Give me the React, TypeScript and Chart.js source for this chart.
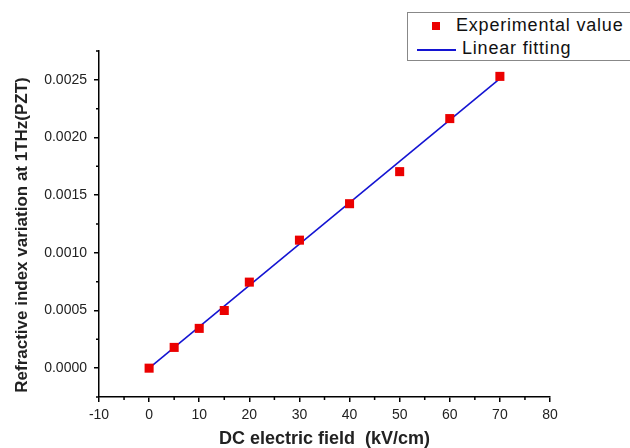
import React, { useEffect, useRef } from "react";
import { Chart, registerables } from "chart.js";

Chart.register(...registerables);

const fieldValues = [0, 5, 10, 15, 20, 30, 40, 50, 60, 70];
const indexVariation = [0.0, 0.00018, 0.000345, 0.0005, 0.000746, 0.00111, 0.001426, 0.001704, 0.002164, 0.00253];
const fitX = [0, 70];
const fitY = [0.0, 0.00251];
const xTicks = [-10, 0, 10, 20, 30, 40, 50, 60, 70, 80];
const xMinorTicks = [-5, 5, 15, 25, 35, 45, 55, 65, 75];
const yTicks = [0, 0.0005, 0.001, 0.0015, 0.002, 0.0025];
const yMinorTicks = [-0.00025, 0.00025, 0.00075, 0.00125, 0.00175, 0.00225, 0.00275];
const yTitle = "Refractive index variation at 1THz(PZT)";
const xTitle = "DC electric field  (kV/cm)";

const decorPlugin = {
  id: "decor",
  afterDraw(chart: any) {
    const ctx = chart.ctx;
    const xs = chart.scales.x;
    const ys = chart.scales.y;
    const area = chart.chartArea;
    ctx.save();
    ctx.strokeStyle = "#000";
    ctx.lineWidth = 1.5;
    ctx.beginPath();
    xMinorTicks.forEach((v) => {
      const px = xs.getPixelForValue(v);
      ctx.moveTo(px, area.bottom);
      ctx.lineTo(px, area.bottom + 3);
    });
    yMinorTicks.forEach((v) => {
      const py = ys.getPixelForValue(v);
      ctx.moveTo(area.left, py);
      ctx.lineTo(area.left - 3, py);
    });
    ctx.stroke();
    // y axis title
    ctx.translate(22, 235);
    ctx.rotate(-Math.PI / 2);
    ctx.fillStyle = "#222";
    ctx.font = "bold 17px 'Liberation Sans', Arial, sans-serif";
    ctx.textAlign = "center";
    ctx.textBaseline = "middle";
    ctx.fillText(yTitle, 0, 0);
    ctx.restore();
  },
};

export default function App() {
  const canvasRef = useRef<HTMLCanvasElement | null>(null);

  useEffect(() => {
    document.body.style.margin = "0";
    const canvas = canvasRef.current;
    if (!canvas) return;
    const chart = new Chart(canvas, {
      type: "scatter",
      data: {
        datasets: [
          {
            label: "Linear fitting",
            data: fitX.map((x, i) => ({ x, y: fitY[i] })),
            showLine: true,
            borderColor: "rgb(20,20,210)",
            borderWidth: 1.6,
            pointRadius: 0,
            order: 2,
          },
          {
            label: "Experimental value",
            data: fieldValues.map((x, i) => ({ x, y: indexVariation[i] })),
            pointStyle: "rect",
            pointRadius: 6.4,
            backgroundColor: "rgb(235,0,0)",
            borderColor: "rgb(235,0,0)",
            borderWidth: 0,
            showLine: false,
            order: 1,
          },
        ],
      },
      options: {
        animation: false,
        responsive: false,
        layout: { padding: { left: 0, right: 80, top: 51, bottom: 0 } },
        plugins: { legend: { display: false }, tooltip: { enabled: false } },
        scales: {
          x: {
            type: "linear",
            min: -10,
            max: 80,
            afterFit: (s: any) => {
              s.height = 51;
            },
            afterBuildTicks: (s: any) => {
              s.ticks = xTicks.map((v) => ({ value: v }));
            },
            grid: { display: true, drawOnChartArea: false, drawTicks: true, tickLength: 5, color: "#000", lineWidth: 1.5 },
            border: { display: true, color: "#000", width: 1.5 },
            ticks: {
              color: "#222",
              padding: 5,
              font: { family: "Liberation Sans, Arial", size: 14 },
              callback: (v: any) => String(v),
            },
            title: {
              display: true,
              text: xTitle,
              color: "#222",
              font: { family: "Liberation Sans, Arial", size: 18, weight: "bold", lineHeight: 1 },
              padding: { top: 0, bottom: 0 },
            },
          },
          y: {
            type: "linear",
            min: -0.00025,
            max: 0.00275,
            afterFit: (s: any) => {
              s.width = 99;
            },
            afterBuildTicks: (s: any) => {
              s.ticks = yTicks.map((v) => ({ value: v }));
            },
            grid: { display: true, drawOnChartArea: false, drawTicks: true, tickLength: 5, color: "#000", lineWidth: 1.5 },
            border: { display: true, color: "#000", width: 1.5 },
            ticks: {
              color: "#222",
              padding: 7,
              font: { family: "Liberation Sans, Arial", size: 14 },
              callback: (v: any) => Number(v).toFixed(4),
            },
            title: { display: false },
          },
        },
      },
      plugins: [decorPlugin],
    });
    return () => chart.destroy();
  }, []);

  return (
    <div style={{ position: "relative", width: 630, height: 448, overflow: "hidden", background: "#fff" }}>
      <canvas ref={canvasRef} width={630} height={448} style={{ position: "absolute", left: 0, top: 0 }} />
      <div
        style={{
          position: "absolute",
          left: 407,
          top: 12,
          width: 240,
          height: 47,
          border: "1px solid #888",
          background: "#fff",
          fontFamily: "Liberation Sans, Arial, sans-serif",
          fontSize: 18,
          letterSpacing: 0.8,
          color: "#111",
        }}
      >
        <div style={{ position: "absolute", left: 24, top: 9, width: 8, height: 8, background: "rgb(235,0,0)" }} />
        <div style={{ position: "absolute", left: 48, top: 2, whiteSpace: "nowrap" }}>Experimental value</div>
        <div style={{ position: "absolute", left: 9, top: 36, width: 39, height: 2, background: "rgb(20,20,210)" }} />
        <div style={{ position: "absolute", left: 54, top: 25, whiteSpace: "nowrap" }}>Linear fitting</div>
      </div>
    </div>
  );
}
